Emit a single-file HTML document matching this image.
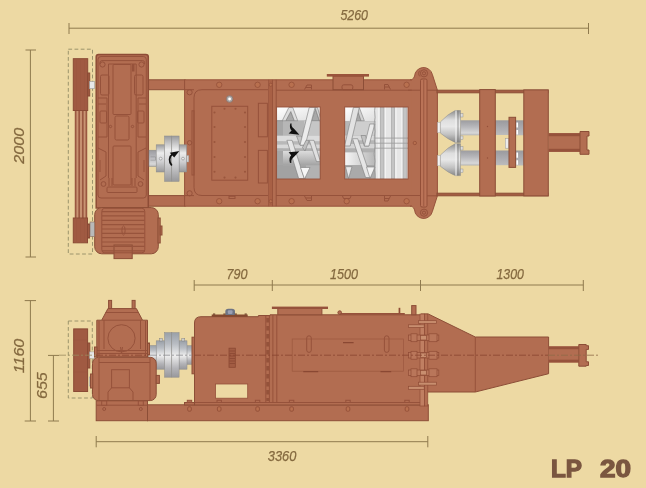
<!DOCTYPE html>
<html><head><meta charset="utf-8"><title>LP 20</title>
<style>
html,body{margin:0;padding:0;background:#EDD9A3;}
body{width:646px;height:488px;overflow:hidden;font-family:"Liberation Sans",sans-serif;}
svg{display:block;filter:blur(.35px)}
.b{fill:#B26D51;stroke:#8C4E37;stroke-width:1}
.bn{fill:#B26D51;stroke:none}
.d{fill:#A05A42;stroke:#8A4A35;stroke-width:1}
.l{fill:none;stroke:#96523B;stroke-width:1}
.lt{fill:none;stroke:#9C583F;stroke-width:.7}
.dim{fill:none;stroke:#8F7A4E;stroke-width:1}
.dash{fill:none;stroke:#9C946C;stroke-width:1;stroke-dasharray:3.8 2.4}
.t{font-family:"Liberation Sans",sans-serif;font-style:italic;font-size:15px;fill:#84693F;stroke:#84693F;stroke-width:.25}
.bolt{fill:#B8704F;stroke:#94503A;stroke-width:.8}
.g{stroke:#8b8b8b;stroke-width:.5}
</style></head>
<body>
<svg width="646" height="488" viewBox="0 0 646 488">
<defs>
<linearGradient id="gv" x1="0" y1="0" x2="0" y2="1">
<stop offset="0" stop-color="#9a9a9c"/><stop offset=".3" stop-color="#ececec"/><stop offset=".6" stop-color="#d2d2d4"/><stop offset="1" stop-color="#98989a"/>
</linearGradient>
<linearGradient id="gh" x1="0" y1="0" x2="1" y2="0">
<stop offset="0" stop-color="#9a9a9a"/><stop offset=".4" stop-color="#efefef"/><stop offset="1" stop-color="#a0a0a0"/>
</linearGradient>
<linearGradient id="gw" x1="0" y1="0" x2="0" y2="1">
<stop offset="0" stop-color="#f4f4f4"/><stop offset="1" stop-color="#9c9c9c"/>
</linearGradient>
<linearGradient id="sh" x1="0" y1="0" x2="0" y2="1">
<stop offset="0" stop-color="#dcdcdc"/><stop offset=".5" stop-color="#c0c0c0"/><stop offset="1" stop-color="#a2a2a2"/>
</linearGradient>
<linearGradient id="sh2" x1="0" y1="0" x2="1" y2="0">
<stop offset="0" stop-color="#f6f6f6"/><stop offset="1" stop-color="#b8b8b8"/>
</linearGradient>
<linearGradient id="wt" x1="0" y1="0" x2="1" y2="1">
<stop offset="0" stop-color="#ffffff"/><stop offset="1" stop-color="#dedede"/>
</linearGradient>
<clipPath id="c1"><rect x="276.6" y="107" width="43.6" height="72"/></clipPath>
<clipPath id="c2"><rect x="344.7" y="107" width="63.3" height="72"/></clipPath>
<linearGradient id="gb" x1="0" y1="0" x2="0" y2="1">
<stop offset="0" stop-color="#8e8e8e"/><stop offset=".3" stop-color="#dedede"/><stop offset=".5" stop-color="#e8e8e8"/><stop offset=".75" stop-color="#c2c2c2"/><stop offset="1" stop-color="#888"/>
</linearGradient>
<linearGradient id="gs" x1="0" y1="0" x2="0" y2="1">
<stop offset="0" stop-color="#9c9ca0"/><stop offset=".45" stop-color="#b8b8bc"/><stop offset=".85" stop-color="#d8d8d8"/><stop offset="1" stop-color="#b4b4b4"/>
</linearGradient>
<linearGradient id="gs2" x1="0" y1="0" x2="0" y2="1">
<stop offset="0" stop-color="#9a9a9e"/><stop offset=".6" stop-color="#aeaeb2"/><stop offset="1" stop-color="#bcbcbc"/>
</linearGradient>
<linearGradient id="gc" x1="0" y1="0" x2="0" y2="1">
<stop offset="0" stop-color="#9aa0a8"/><stop offset=".25" stop-color="#b8bcc2"/><stop offset=".52" stop-color="#eeeeee"/><stop offset=".8" stop-color="#b4b4b8"/><stop offset="1" stop-color="#98989c"/>
</linearGradient>
</defs>
<rect width="646" height="488" fill="#EDD9A3"/>

<!-- DIMENSIONS -->
<g id="dims">
<path class="dim" d="M69 28.2H588.5M69 23v11M588.5 23v11"/>
<path class="dim" d="M30.4 50V257M25.5 50h10.5M25.5 257h10.5"/>
<path class="dim" d="M194.2 285H583.3M194.2 280v11M272.3 280v11M420.5 280v11M583.3 280v11"/>
<path class="dim" d="M96.2 441.7H427.8M96.2 436v11.3M427.8 436v11.3"/>
<path class="dim" d="M30.4 300.6V421M24.7 300.6h11.3M24.7 421h11.3"/>
<path class="dim" d="M53.4 355.4V421M48 355.4h11M48 421h11"/>
<text class="t" x="340.4" y="20.3" textLength="27.6" lengthAdjust="spacingAndGlyphs">5260</text>
<text class="t" x="226.4" y="279.2" textLength="21" lengthAdjust="spacingAndGlyphs">790</text>
<text class="t" x="330" y="279.2" textLength="28" lengthAdjust="spacingAndGlyphs">1500</text>
<text class="t" x="496.5" y="279.2" textLength="27.4" lengthAdjust="spacingAndGlyphs">1300</text>
<text class="t" x="267.8" y="460.5" textLength="28.5" lengthAdjust="spacingAndGlyphs">3360</text>
<text class="t" transform="translate(24.1 163.8) rotate(-90)" textLength="36" lengthAdjust="spacingAndGlyphs">2000</text>
<text class="t" transform="translate(24.4 373.2) rotate(-90)" textLength="34.4" lengthAdjust="spacingAndGlyphs">1160</text>
<text class="t" transform="translate(47.3 399) rotate(-90)" textLength="26.7" lengthAdjust="spacingAndGlyphs">655</text>
</g>

<!-- TOP VIEW -->
<g id="top">
<!-- dashed belt guard -->
<rect class="dash" x="68.3" y="49.2" width="24.2" height="204.8"/>
<!-- belts -->
<rect x="75" y="110" width="12" height="109" fill="#C99473"/>
<path d="M75.6 110V219M79.2 110V219M82.8 110V219M86.4 110V219" stroke="#9A5840" stroke-width="1.7" fill="none"/>
<!-- pulleys -->
<rect class="d" x="73.3" y="58.7" width="14.4" height="51.8"/>
<path class="lt" d="M76.5 59V110M80.5 59V110M84.5 59V110" stroke="#955038"/>
<rect class="d" x="87.7" y="73" width="2" height="23"/>
<rect class="d" x="73.3" y="218" width="14.2" height="24.8"/>
<path class="lt" d="M76.5 218V243M80.5 218V243M84.5 218V243" stroke="#955038"/>
<rect class="d" x="87.5" y="224" width="2" height="14"/>
<!-- small shafts -->
<rect x="89.5" y="81.5" width="5" height="7.2" fill="#e8e8e8" stroke="#999" stroke-width=".6"/>
<!-- frame beams left -->
<rect class="b" x="148" y="79.8" width="37" height="9.9"/>
<rect class="b" x="148" y="195.6" width="37" height="10.6"/>
<!-- gearbox -->
<path class="b" style="stroke-width:1.500;stroke:#8E4C36" d="M98.500 54.400H145.800Q148.300 54.400 148.300 56.900V208H96.200V56.900Q96.200 54.400 98.500 54.400Z"/>
<rect class="l" x="98" y="56.500" width="48.300" height="141.500" rx="3"/>
<path class="l" d="M100 64V62.600Q100 60.600 102 60.600H142.600Q144.600 60.600 144.600 62.600V64M108.500 64V178M136.200 64V178M108.500 64H136.200"/><rect x="132" y="64" width="2.500" height="7.500" fill="#96523B"/>
<circle class="l" cx="102.5" cy="64.5" r="2.6"/><circle class="l" cx="141.5" cy="64.5" r="2.6"/>
<rect class="l" x="113" y="64.5" width="18" height="50" rx="1"/>
<rect class="l" x="100.5" y="75" width="8.5" height="20" rx="1.5"/>
<rect class="l" x="134.5" y="75" width="8.5" height="20" rx="1.5"/>
<rect class="l" x="115" y="116" width="14" height="24" rx="1.5"/>
<path class="l" d="M98 98H107V137H98M146 98H138V137H146M98 104H106M146 104H139"/>
<rect class="l" x="100" y="111" width="6.5" height="12" rx="1"/><rect class="l" x="137.5" y="111" width="6.5" height="12" rx="1"/>
<circle class="l" cx="110.5" cy="126.5" r="1.2"/><circle class="l" cx="132.5" cy="126.5" r="1.2"/>
<rect class="l" x="113" y="146" width="18" height="39" rx="1"/>
<path class="l" d="M98 148L106 152V176L100 180M146 148L138 152V176L144 180"/>
<path class="l" d="M109 178V186M112 178V186M135 178V186M132 178V186"/>
<circle class="l" cx="103.5" cy="184" r="2.4"/><circle class="l" cx="140.5" cy="184" r="2.4"/>
<rect class="l" x="107" y="187" width="30" height="5.5" rx="1"/>
<path class="l" d="M100 160V172M144 160V172"/>
<!-- motor -->
<rect class="b" x="94.700" y="207.600" width="63.600" height="46.200" rx="7"/>
<rect class="b" x="114" y="245" width="18.200" height="13.600"/>
<rect class="l" x="101.800" y="208.300" width="43" height="44.500" rx="3"/>
<path d="M102 211.6H144.600M102 215.9H144.600M102 220.3H144.600M102 224.7H144.600M102 229.0H144.600M102 233.3H144.600M102 237.7H144.600M102 242.0H144.600M102 246.4H144.600M102 250.8H144.600" stroke="#98543C" stroke-width="1.200" fill="none"/>
<ellipse class="l" cx="123.5" cy="230.5" rx="1.6" ry="4.6"/>
<rect class="b" x="158" y="218" width="2.200" height="25"/>
<rect class="b" x="160.200" y="226" width="1.800" height="9"/>
<rect x="90" y="222" width="4.700" height="14.500" fill="#b9b9b9" stroke="#8a6a5a" stroke-width=".600"/>
<!-- main body -->
<rect class="bn" x="184.600" y="79.800" width="236.400" height="126.400"/><path class="l" d="M412 79.800H184.600V206.200H412"/>
<path class="l" d="M184.6 89.7H194M184.6 195.6H194"/>
<path class="l" d="M276 90.2H421M276 195.5H421"/>
<!-- drive box panel -->
<path class="l" d="M268 89.7H202Q194 89.7 194 97.7V187.5Q194 195.5 202 195.5H268"/>
<rect class="l" x="192" y="110.8" width="2" height="64.2"/>
<circle class="l" cx="189.6" cy="92.3" r="2.6"/><circle class="l" cx="189.6" cy="193.3" r="2.6"/><circle class="l" cx="189.6" cy="142.8" r="2.2"/>
<rect class="l" x="211.8" y="106.3" width="35.9" height="73.9"/>
<g fill="#9A563D">
<circle cx="214.5" cy="112.5" r="1.050"/><circle cx="214.5" cy="127" r="1.050"/><circle cx="214.5" cy="142" r="1.050"/><circle cx="214.5" cy="157" r="1.050"/><circle cx="214.5" cy="171.8" r="1.050"/>
<circle cx="245" cy="112.5" r="1.050"/><circle cx="245" cy="127" r="1.050"/><circle cx="245" cy="142" r="1.050"/><circle cx="245" cy="157" r="1.050"/><circle cx="245" cy="171.8" r="1.050"/>
<circle cx="224.5" cy="108.8" r="1.050"/><circle cx="235.5" cy="108.8" r="1.050"/><circle cx="224.5" cy="177.6" r="1.050"/><circle cx="235.5" cy="177.6" r="1.050"/>
</g>
<circle cx="229.6" cy="99" r="3.4" fill="#a9a9a9" stroke="#8a6a60" stroke-width=".7"/><circle cx="229.6" cy="99" r="1.4" fill="#fff"/>
<rect class="l" x="258.4" y="103.3" width="9" height="33.5"/>
<rect class="l" x="258.4" y="150.4" width="9" height="32.6"/>
<rect class="l" x="229" y="196.3" width="6" height="2.2"/>
<!-- coupling -->
<rect x="149" y="150.200" width="7.500" height="16.300" fill="url(#gs)" class="g"/><path d="M150.500 156.800H155.500V160.200H150.500" fill="none" stroke="#8a8a8a" stroke-width=".500"/>
<rect x="186.500" y="155.500" width="2.300" height="6.500" fill="#d4d4d4" stroke="#999" stroke-width=".400"/>
<rect x="156.2" y="144.8" width="8.6" height="27.2" fill="url(#gv)" class="g"/>
<rect x="179" y="144.8" width="7.6" height="27.2" fill="url(#gv)" class="g"/>
<rect x="164.5" y="136" width="7.3" height="45.4" fill="url(#gv)" class="g"/>
<rect x="171.8" y="136" width="7.3" height="45.4" fill="url(#gv)" class="g"/>
<circle cx="160.7" cy="158.6" r="1.4" fill="#eee" stroke="#777" stroke-width=".5"/>
<circle cx="183" cy="158.6" r="1.4" fill="#eee" stroke="#777" stroke-width=".5"/>
<path d="M171.800 165.500C168.600 162 169 156.500 172.300 154.300" fill="none" stroke="#111" stroke-width="1.800"/>
<path d="M169.800 152.800L179.300 151L174.200 157.600Z" fill="#111"/>
<!-- flange lines -->
<path class="l" d="M268.8 79.8V206.2M272.4 79.8V206.2M276.2 79.8V206.2" />
<rect x="269.3" y="80.3" width="2.7" height="125.4" fill="#A86045"/>
<!-- bolts top/bottom -->
<g class="bolt">
<circle cx="219.2" cy="84.8" r="2.7"/><circle cx="257.6" cy="84.8" r="2.7"/><circle cx="291.6" cy="84.8" r="2.7"/><circle cx="406.6" cy="84.8" r="2.7"/>
<circle cx="219.2" cy="201.2" r="2.7"/><circle cx="257.6" cy="201.2" r="2.7"/><circle cx="291.6" cy="201.2" r="2.7"/><circle cx="346.7" cy="201.2" r="2.7"/><circle cx="406.6" cy="201.2" r="2.7"/>
<circle cx="270.7" cy="84.8" r="1.6"/><circle cx="270.7" cy="201.2" r="1.6"/>
<circle cx="414.8" cy="143" r="1.7"/>
</g>
<!-- small brackets -->
<path class="l" d="M304.5 89.5L307 85H311.5V89.5M306 87.5H311M384.5 89.5V84.5H388L390.5 89.5M385 87H389"/>
<path class="l" d="M304.5 196L307 200.5H311.5V196M306 198H311M384.5 196V201H388L390.5 196M385 198.5H389M342.5 196L343.5 198.5H350L351 196"/>
<!-- inlet -->
<rect class="b" x="333" y="76" width="30.5" height="13.7"/>
<rect x="326.8" y="74" width="42.2" height="2.6" fill="#9A543B"/>
<rect class="l" x="342" y="84.8" width="10.8" height="5" rx="1.8"/>
<!-- windows -->
<g id="win1" clip-path="url(#c1)">
<rect x="276.600" y="107" width="43.600" height="14" fill="url(#wt)"/>
<rect x="276.600" y="120.500" width="43.600" height="60" fill="#b2b2b2"/>
<rect x="276.600" y="120.500" width="6.400" height="60" fill="#a6a6a6"/>
<rect x="283" y="120.700" width="37.200" height="15" fill="#b6b6b6"/><rect x="304" y="120.700" width="16.200" height="15" fill="#c6c6c6"/>
<rect x="276.600" y="135.700" width="43.600" height="5.800" fill="#dcdcdc"/>
<rect x="276.600" y="141.500" width="43.600" height="3" fill="#b8b8b8"/>
<rect x="276.600" y="144.500" width="43.600" height="4" fill="#d8d8d8"/>
<rect x="276.600" y="148.500" width="43.600" height="2.500" fill="#b0b0b0"/>
<rect x="283" y="151" width="37.200" height="14.300" fill="url(#sh)"/>
<rect x="276.600" y="165.300" width="43.600" height="14" fill="#a2a2a2"/><rect x="306" y="165.300" width="14.200" height="14" fill="#b2b2b2"/>
<path d="M276.600 120.700H283" stroke="#888" stroke-width=".600"/>
<g stroke="#7c7c7c" stroke-width=".600">
<path d="M285.800 120.700L290.800 111.500L294.300 120.700Z" fill="#a9a9a9"/>
<path d="M282.300 120.700L288.800 107.500H292.800L297.700 120.700H294.300L290.800 111.500L285.800 120.700Z" fill="#dedede"/>
<path d="M311.500 120.700L315.500 109L319.500 120.700Z" fill="#a8a8a8"/>
<path d="M315 107.500H317.500L320.500 118V121H319.500Z" fill="#d4d4d4"/>
<path d="M296.500 136L300 145.200H305.200L301.500 136Z" fill="#c4c4c4"/>
<path d="M309.200 107.500H315L305.200 145.200H300Z" fill="#ececec"/>
<path d="M305 151L309.200 140.300H306L302.500 147.500Z" fill="#c0c0c0"/>
<path d="M286.900 140.300H292.100L304.300 178.500H298.700Z" fill="#e6e6e6"/>
<path d="M300.500 167.500H310L304.500 179Z" fill="#f6f6f6"/>
<path d="M309.200 140.300H314L320.400 161.600H316.500Z" fill="#e0e0e0"/>
</g>
<path d="M290.300 123.400C289.400 126.500 290 129 291.600 130.500L288.600 133.600L299.400 134.800L293.800 128.500C291.900 127.300 291.200 125.600 291.600 123.600Z" fill="#111"/>
<path d="M290 163C288.900 159.700 289.400 156.800 291.200 155.200L288.600 152.300L299.400 151.200L293.600 157.300C291.700 158.600 291 160.500 291.400 162.800Z" fill="#111"/>
</g>
<g id="win2" clip-path="url(#c2)">
<rect x="344.700" y="107" width="63.300" height="72" fill="#e6e6e6"/>
<rect x="344.700" y="107" width="31" height="72" fill="#b6b6b6"/>
<rect x="344.700" y="107" width="31" height="14" fill="url(#wt)"/>
<rect x="349" y="121.300" width="26" height="13.700" fill="#cecece"/>
<rect x="344.700" y="135.500" width="30" height="5" fill="#dadada"/>
<rect x="344.700" y="140.500" width="30" height="3.500" fill="#b6b6b6"/>
<rect x="344.700" y="144" width="30" height="4.500" fill="#d4d4d4"/>
<rect x="344.700" y="148.500" width="30" height="4" fill="#b0b0b0"/>
<rect x="344.700" y="152.400" width="30" height="12.600" fill="url(#sh2)"/>
<rect x="344.700" y="165" width="30" height="14" fill="#aaaaaa"/>
<g fill="#c4c4c4" stroke="#9c9c9c" stroke-width=".500">
<rect x="380.300" y="107" width="3.700" height="72"/><rect x="391.300" y="107" width="3.300" height="72"/><rect x="403" y="107" width="3.400" height="72"/>
</g>
<g stroke="#fafafa" stroke-width=".800"><path d="M385.300 107V179M396 107V179M401.800 107V179M378.800 107V179"/></g>
<g stroke="#9a9a9a" stroke-width=".800"><path d="M374.500 138.100H408M374.500 143.200H408M374.500 148.200H408"/></g>
<g stroke="#7c7c7c" stroke-width=".600">
<path d="M355 120.700L358.300 111L361 120.700Z" fill="#a8a8a8"/>
<path d="M359.300 107.500L364.300 120.700H361L357.300 110Z" fill="#d2d2d2"/>
<path d="M353.400 107.500H359.300L350.200 146H344.600Z" fill="#e2e2e2"/>
<path d="M361 135.500L364.300 146H368.900L365.500 135.500Z" fill="#c2c2c2"/>
<path d="M369.800 124H374.800L368.900 146H364.300Z" fill="#eaeaea"/>
<path d="M352.500 138.700H357.700L370.800 177.500H365.600Z" fill="#e6e6e6"/>
<path d="M366.500 167H375L370 178.500Z" fill="#f2f2f2"/>
<path d="M345.500 166.700H352L348.500 178.500Z" fill="#e8e8e8"/>
</g>
<path d="M375 107C373.500 112 376 116 374.500 121C373 126 376 130 374.500 135C373.500 140 376 145 374.500 150C373 155 376 160 374.500 165C373.500 170 376 174 375 179" stroke="#909090" stroke-width=".700" fill="none"/>
</g>
<rect x="276.6" y="107" width="43.6" height="72" fill="none" stroke="#94503A" stroke-width=".9"/>
<rect x="344.7" y="107" width="63.3" height="72" fill="none" stroke="#94503A" stroke-width=".9"/>
<!-- end plate & lugs -->
<path class="bn" d="M411.700 79.900Q414 78.500 414.600 76A9 9 0 0 1 432.300 74.300L437.400 90.200V195.800L432.300 211.700A9 9 0 0 1 414.600 210Q414 207.500 411.700 206.100Z"/><path class="l" d="M410 79.800H411.700Q414 78.500 414.600 76A9 9 0 0 1 432.300 74.300L437.400 90.200V195.800L432.300 211.700A9 9 0 0 1 414.600 210Q414 207.500 411.700 206.200H410"/>
<rect x="420.500" y="79" width="6.500" height="128" rx="1.500" fill="#BA7357" stroke="#8E4C36" stroke-width=".900"/>
<path d="M423.750 80V206" stroke="#8E4C36" stroke-width=".700"/>
<circle class="l" cx="424" cy="73.300" r="3.600"/><circle class="l" cx="424" cy="73.300" r="1.600"/><path class="l" d="M420 70.500A4 4 0 0 0 420 76.500"/>
<circle class="l" cx="424" cy="212.700" r="3.600"/><circle class="l" cx="424" cy="212.700" r="1.600"/>
<path class="l" d="M420.500 90.200H408M420.500 195.500H408M427 90.200H437M427 195.800H437"/>
<circle class="bolt" cx="414.800" cy="143" r="1.700"/>
<!-- right frame -->
<rect class="b" style="fill:#A25C42" x="437" y="90.200" width="111" height="2.600"/>
<rect class="b" style="fill:#A25C42" x="437" y="193.200" width="111" height="2.600"/>
<!-- bells and shafts -->
<g id="bells">
<rect x="460.500" y="120.300" width="19.500" height="15" fill="url(#gs)"/>
<rect x="460.500" y="150.500" width="19.500" height="15" fill="url(#gs)"/>
<rect x="495" y="120.300" width="14.500" height="14.700" fill="url(#gs2)"/>
<rect x="495" y="150.500" width="14.500" height="14.700" fill="url(#gs2)"/>
<rect x="515" y="120.300" width="9" height="15" fill="url(#gs2)"/>
<rect x="515" y="150.500" width="9" height="15" fill="url(#gs2)"/>
<path d="M517.200 122.400V127.500M517.200 130V134.500M517.200 152.600V157.700M517.200 160.200V164.700" stroke="#fff" stroke-width="1.700"/>
<rect x="437.600" y="122.400" width="2.900" height="10.300" fill="#f4f4f4" stroke="#aaa" stroke-width=".4"/>
<rect x="437.600" y="155.500" width="2.900" height="10.300" fill="#f4f4f4" stroke="#aaa" stroke-width=".4"/>
<path d="M440.300 122Q448 113.800 455.200 110.500H460.500V142.400H455.200Q448 139.500 440.300 133Z" fill="url(#gb)" class="g"/>
<path d="M440.300 155.200Q448 147 455.200 143.700H460.500V175.600H455.200Q448 172.700 440.300 166.200Z" fill="url(#gb)" class="g"/>
<path d="M456 110.500V142.400M456 143.700V175.600" stroke="#f4f4f4" stroke-width="1"/><path d="M458 110.500V142.400M458 143.700V175.600" stroke="#7a7a7a" stroke-width=".700"/>
<rect x="460.600" y="113.500" width="2.400" height="3.500" fill="#ddd" stroke="#888" stroke-width=".4"/>
<rect x="460.600" y="136" width="2.400" height="3.500" fill="#ddd" stroke="#888" stroke-width=".4"/>
<rect x="460.600" y="146.500" width="2.400" height="3.500" fill="#ddd" stroke="#888" stroke-width=".4"/>
<rect x="460.600" y="169" width="2.400" height="3.500" fill="#ddd" stroke="#888" stroke-width=".4"/>
<rect x="505.300" y="138.700" width="3.500" height="9.500" fill="#ececec" stroke="#999" stroke-width=".5"/>
</g>
<rect class="b" x="479.700" y="89.600" width="15.600" height="106.400"/>
<rect class="b" x="523.800" y="89.900" width="24.500" height="106"/>
<rect class="b" x="509" y="117.300" width="6.600" height="50.100"/>
<circle cx="487.500" cy="126.500" r=".7" fill="#94503A"/><circle cx="487.500" cy="158" r=".7" fill="#94503A"/>
<!-- rod -->
<rect x="548.600" y="133.200" width="31.400" height="18.600" fill="#B26D51"/>
<rect x="548.600" y="133.200" width="31.400" height="3" fill="#96523B"/>
<rect x="548.600" y="148.800" width="31.400" height="3" fill="#96523B"/>
<path class="b" d="M580 131.500H589V136H587V150H589V154.300H580Z"/>
</g>

<!-- SIDE VIEW -->
<g id="side">
<!-- dashed guard -->
<rect class="dash" x="68.300" y="321" width="24" height="77"/>
<!-- pulley -->
<rect class="d" x="73.700" y="328.900" width="13.900" height="62.600"/>
<path class="lt" d="M73.700 340H87.600M73.700 372H87.600" stroke="#8F4C36"/>
<rect class="d" x="87.600" y="343" width="2.200" height="25"/>
<rect x="89.500" y="351.900" width="5" height="6.400" fill="#e6e6e6" stroke="#999" stroke-width=".5"/>
<rect x="89.500" y="377" width="3.500" height="9" fill="#cfcfcf" stroke="#999" stroke-width=".5"/>
<!-- coupling -->
<rect x="148.700" y="345.500" width="8" height="19" fill="url(#gc)" class="g"/>
<rect x="186.500" y="345.700" width="5.700" height="18.600" fill="url(#gc)" class="g"/>
<rect x="156.200" y="340.800" width="8.600" height="28.400" fill="url(#gc)" class="g"/>
<rect x="179" y="340.800" width="8" height="28.400" fill="url(#gc)" class="g"/>
<rect x="164.500" y="332.600" width="7.300" height="44.600" fill="url(#gc)" class="g"/>
<rect x="171.800" y="332.600" width="7.300" height="44.600" fill="url(#gc)" class="g"/>
<rect x="159.500" y="338.500" width="3" height="2.500" fill="#ccc" stroke="#777" stroke-width=".4"/>
<rect x="181.800" y="338.500" width="3" height="2.500" fill="#ccc" stroke="#777" stroke-width=".4"/>
<!-- gearbox upper -->
<rect class="b" x="108.600" y="300.400" width="3" height="9"/>
<rect class="b" x="132.100" y="300.400" width="3" height="9"/>
<path class="b" d="M107.900 308.600H136.400L142.500 320.200H147.500V357H96.800V320.200H101.700Z"/>
<path class="l" d="M101.700 320.200H142.500M104 320.200V349M140.500 320.200V349M99 321V356M145.500 321V356"/>
<path class="l" d="M105.500 312.500H139"/>
<circle class="l" cx="121.500" cy="338.300" r="13.600"/>
<path class="l" d="M96.800 350.500H147.500M96.800 353.500H147.500M120.500 347L121.500 353L122.500 347"/>
<rect class="b" x="94.500" y="347" width="2.500" height="10"/>
<rect class="b" x="147.500" y="343" width="2" height="12"/>
<!-- motor lower -->
<rect class="b" x="92.500" y="357.300" width="63.700" height="43.300" rx="6"/>
<path class="l" d="M99 358V400M150 358V400M99 362.500H150"/>
<rect class="l" x="111.600" y="369.700" width="17.800" height="18.100"/>
<path class="l" d="M108 400V392L111.600 387.800M133 400V392L129.400 387.800"/>
<rect class="b" x="156.200" y="375.400" width="3.200" height="8"/>
<rect class="b" x="90.500" y="374" width="2.300" height="14"/>
<!-- base -->
<rect class="b" x="96.200" y="400.800" width="51.300" height="19.900"/>
<rect class="b" x="147.500" y="404.800" width="280.800" height="15.900"/>
<path class="l" d="M96.200 405.200H147.500"/>
<rect class="b" x="192" y="337.200" width="3" height="36.600"/>
<!-- main box -->
<path class="b" d="M194.500 405V323Q194.500 316.700 201 316.700H258.400V315.500H270V314.800H421V405Z"/><path class="l" d="M184.500 402.500H421"/><rect class="b" x="184.500" y="402.500" width="10" height="2.500"/>
<rect x="211.700" y="314.500" width="36" height="2.400" fill="#84482F"/>
<path d="M225.300 315V311.500Q225.300 308.700 228.300 308.700H232Q235 308.700 235 311.500V315Z" fill="#6e7484"/><rect x="227.800" y="310.300" width="4.700" height="3.600" rx="1" fill="#9a9eb2"/>
<g fill="#6E4028"><rect x="213" y="313.500" width="2.200" height="1.200"/><rect x="223.300" y="313.500" width="2.200" height="1.200"/><rect x="234.700" y="313.500" width="2.200" height="1.200"/><rect x="244.600" y="313.500" width="2.200" height="1.200"/></g>
<rect x="229" y="348.200" width="6.300" height="19.100" fill="#A25C43" stroke="#8A4833" stroke-width=".8"/>
<path d="M229.500 351H235M229.500 353.500H235M229.500 356H235M229.500 358.500H235M229.500 361H235M229.500 363.500H235" stroke="#8A4833" stroke-width=".8"/>
<rect x="215.500" y="384" width="32.200" height="14.200" fill="#EDD9A3" stroke="#94503A" stroke-width=".8"/>
<!-- flange -->
<path class="l" d="M265.800 316V402.500M269.400 315.500V402.500M272.900 315V402.500M276.800 315V402.500"/>
<path d="M267.700 318V401" stroke="#94523A" stroke-width="2.800" stroke-dasharray="4.500 3.500" fill="none"/>
<!-- inlet -->
<rect class="b" x="277.800" y="308.500" width="44.100" height="6.300"/>
<rect x="271.900" y="306.600" width="56.100" height="2.400" fill="#96523B"/>
<!-- top strip -->
<rect x="339.200" y="313" width="65.600" height="1.800" fill="#96523B"/>
<circle cx="339.700" cy="312.600" r="1.800" class="b"/>
<rect x="398.600" y="307.800" width="1.700" height="5.500" fill="#8F4C36"/>
<rect class="b" x="411.700" y="305.600" width="4.300" height="9.200"/>
<!-- door -->
<rect class="lt" x="292.200" y="339" width="111.400" height="32.200" stroke="#8F4C36"/>
<rect class="l" x="306.700" y="335.800" width="4.600" height="16.600" rx="2.300"/>
<rect class="l" x="384.400" y="335.800" width="4.600" height="16.600" rx="2.300"/>
<path d="M343 342.700H353.600M303.300 371.700H318.200M380.500 371.700H391.200" stroke="#8A4833" stroke-width="1.300"/>
<!-- cone / chute -->
<path class="b" d="M421 314H428.300L475.300 337H548.600V373.700L475.300 392H421Z"/>
<path class="l" d="M475.300 337V392"/>
<!-- latches -->
<g id="latch">
<rect x="420" y="314" width="4.600" height="92" fill="#C07F62" stroke="#8F4C36" stroke-width=".7"/>
<rect x="424.600" y="314" width="3.200" height="92" fill="#B26D51" stroke="#8F4C36" stroke-width=".7"/>
<g fill="#C88E6F" stroke="#8F4C36" stroke-width=".7">
<rect x="418.500" y="320.700" width="18" height="2.600"/>
<rect x="408.400" y="324.800" width="15.800" height="2.700"/>
<rect x="418.500" y="382.200" width="18" height="2.900"/>
<rect x="408.400" y="386.300" width="15.800" height="3"/>
</g>
<g fill="#B9765A" stroke="#8F4C36" stroke-width=".7">
<rect x="408.400" y="335" width="30.400" height="5.500"/><rect x="411" y="333.800" width="6" height="7.900"/><rect x="429" y="333.800" width="8" height="7.900"/><rect x="420.500" y="335.500" width="6" height="4.500" fill="#C88E6F"/>
<rect x="408.400" y="352.500" width="30.400" height="5.500"/><rect x="411" y="351.300" width="6" height="7.900"/><rect x="429" y="351.300" width="8" height="7.900"/><rect x="420.500" y="353" width="6" height="4.500" fill="#C88E6F"/>
<rect x="408.400" y="370" width="30.400" height="5.500"/><rect x="411" y="368.800" width="6" height="7.900"/><rect x="429" y="368.800" width="8" height="7.900"/><rect x="420.500" y="370.500" width="6" height="4.500" fill="#C88E6F"/>
</g>
</g>
<g id="basebolts" class="l"><rect x="187.3" y="400.300" width="4.400" height="2.200" fill="#B26D51"/><rect x="187.7" y="406.800" width="3.600" height="4.400" rx="1.200" fill="#B8704F"/><rect x="217.0" y="400.300" width="4.400" height="2.200" fill="#B26D51"/><rect x="217.4" y="406.800" width="3.600" height="4.400" rx="1.200" fill="#B8704F"/><rect x="255.4" y="400.300" width="4.400" height="2.200" fill="#B26D51"/><rect x="255.8" y="406.800" width="3.600" height="4.400" rx="1.200" fill="#B8704F"/><rect x="289.4" y="400.300" width="4.400" height="2.200" fill="#B26D51"/><rect x="289.8" y="406.800" width="3.600" height="4.400" rx="1.200" fill="#B8704F"/><rect x="345.8" y="400.300" width="4.400" height="2.200" fill="#B26D51"/><rect x="346.2" y="406.800" width="3.600" height="4.400" rx="1.200" fill="#B8704F"/><rect x="404.8" y="400.300" width="4.400" height="2.200" fill="#B26D51"/><rect x="405.2" y="406.800" width="3.600" height="4.400" rx="1.200" fill="#B8704F"/><rect x="101.7" y="401" width="5" height="4.200" fill="#B26D51"/><circle cx="104.2" cy="409" r="1.500"/><rect x="138.3" y="401" width="5" height="4.200" fill="#B26D51"/><circle cx="140.8" cy="409" r="1.500"/></g>
<!-- rod -->
<rect x="548.600" y="346.400" width="30.200" height="16.100" fill="#B26D51"/>
<rect x="548.600" y="346.400" width="30.200" height="2.800" fill="#96523B"/>
<rect x="548.600" y="359.700" width="30.200" height="2.800" fill="#96523B"/>
<path class="b" d="M578.800 344.500H586.200V345.700H588.500V349.400H586.200V361.800H588.500V365.500H586.200V366.200H578.800Z"/>
<!-- centerline -->
<path d="M59 355.200H96" stroke="#9a8a60" stroke-width=".800" stroke-dasharray="7 2 2 2" fill="none"/><path d="M96 355.200H148M194 355.200H548" stroke="#8A4430" stroke-width=".900" stroke-dasharray="7 2 2 2" fill="none" opacity=".9"/><path d="M150 355.200H192" stroke="#8c8c90" stroke-width=".800" stroke-dasharray="7 2 2 2" fill="none"/><path d="M548 355.200H600" stroke="#8E6A48" stroke-width=".800" stroke-dasharray="7 2 2 2" fill="none"/>
</g>

<!-- LABEL -->
<g id="label" fill="#7A5640" stroke="#7A5640" stroke-width="1.300" font-family="Liberation Sans, sans-serif" font-weight="bold" font-size="24px">
<text x="551" y="477.3" textLength="31" lengthAdjust="spacingAndGlyphs">LP</text>
<text x="600" y="477.3" textLength="31" lengthAdjust="spacingAndGlyphs">20</text>
</g>
</svg>
</body></html>
